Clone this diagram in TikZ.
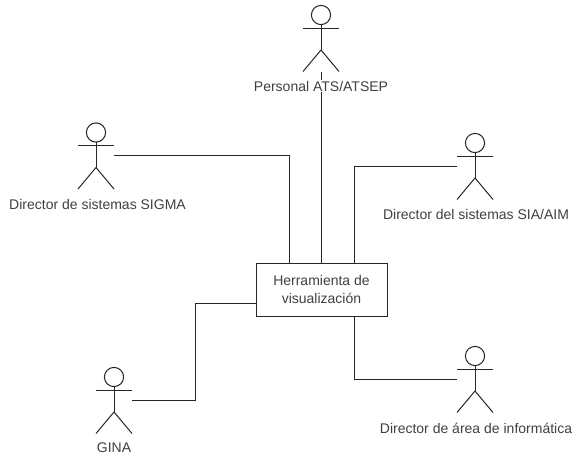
\documentclass[tikz,border=0pt]{standalone}
\usepackage{fontspec}
\setmainfont{Liberation Sans}
\tikzset{
  actorbox/.style={minimum width=27pt,minimum height=49.5pt,inner sep=0pt},
  actorline/.style={line width=0.75pt,black!85},
  linkline/.style={line width=0.75pt,black!85},
  toolbox/.style={draw=black!85,line width=0.75pt,fill=white,align=center,minimum width=98.25pt,minimum height=39.75pt,inner sep=0pt,text=black!75,font=\fontsize{10.5pt}{13pt}\selectfont},
  actorlabel/.style={inner sep=1pt,text=black!75,font=\fontsize{10.5pt}{13pt}\selectfont}
}
% actor: name, x, y
\newcommand{\actor}[3]{
\node [actorbox] (#1) at (#2,#3) {};
\draw [actorline] (#2,#3-23.5) circle (9.6);
\draw [actorline] (#2-18,#3-10)-- (#2+18,#3-10);
\draw [actorline] (#2,#3-14)-- (#2,#3+11.5);
\draw [actorline] (#2-18,#3+33)-- (#2,#3+11.5);
\draw [actorline] (#2,#3+11.5)-- (#2+18,#3+33);
}
\begin{document}
\begin{tikzpicture}[line cap=butt,line join=miter,x=0.75pt,y=-0.75pt]
\useasboundingbox (0,0) rectangle (574,456);
\actor{personal}{321}{38.5}
\actor{sigma}{96}{156}
\actor{sia}{475}{166.5}
\actor{gina}{114}{400.5}
\actor{informatica}{475}{379.5}
\node [toolbox] (tool) at (321.5,289.5) {Herramienta de\\visualización};
\coordinate (tooltopl) at (289,263);
\coordinate (tooltopr) at (354,263);
\coordinate (toolbotr) at (354,316);
\coordinate (toolleft) at (256,303);
\coordinate (ginabend) at (195,303);
\draw [linkline] (personal.south)-- (personal.south |- tool.north);
\draw [linkline] (sigma.east) -| (tooltopl);
\draw [linkline] (sia.west) -| (tooltopr);
\draw [linkline] (informatica.west) -| (toolbotr);
\draw [linkline] (gina.east) -| (ginabend)-- (toolleft);
\node [actorlabel,fill=white] (personallabel) at (321,86) {Personal ATS/ATSEP};
\node [actorlabel] (sigmalabel) at (97.5,204) {Director de sistemas SIGMA};
\node [actorlabel] (sialabel) at (476,214) {Director del sistemas SIA/AIM};
\node [actorlabel] (ginalabel) at (114,448) {GINA};
\node [actorlabel] (informaticalabel) at (476,428) {Director de área de informática};
\end{tikzpicture}
\end{document}
